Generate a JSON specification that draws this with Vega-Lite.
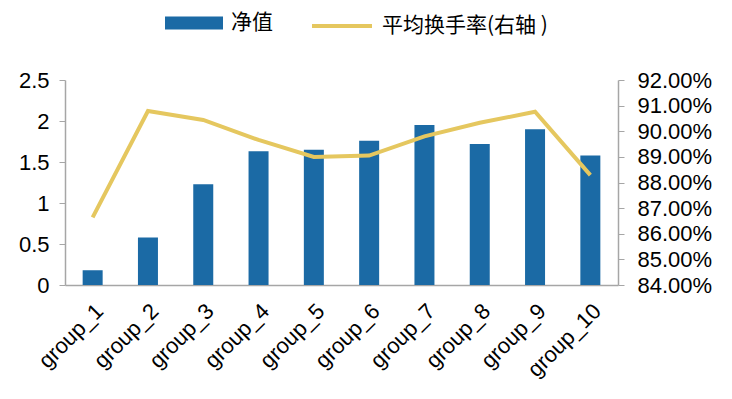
{
  "$schema": "https://vega.github.io/schema/vega-lite/v6.json",
  "width": 553,
  "height": 205,
  "autosize": "none",
  "padding": {"left": 65, "top": 80, "right": 114, "bottom": 114},
  "background": "white",
  "config": {
    "font": "Liberation Sans, Noto Sans CJK SC",
    "view": {"stroke": null},
    "axis": {"labelFont": "Liberation Sans", "labelFontSize": 22, "labelColor": "#000", "domainColor": "#a6a6a6", "tickColor": "#a6a6a6", "grid": false, "title": null}
  },
  "data": {"values": [
    {"group": "group_1", "nav": 0.18, "turnover": 0.8664, "s1": "净值", "s2": "平均换手率(右轴 )"},
    {"group": "group_2", "nav": 0.58, "turnover": 0.9079, "s1": "净值", "s2": "平均换手率(右轴 )"},
    {"group": "group_3", "nav": 1.23, "turnover": 0.9044, "s1": "净值", "s2": "平均换手率(右轴 )"},
    {"group": "group_4", "nav": 1.63, "turnover": 0.8966, "s1": "净值", "s2": "平均换手率(右轴 )"},
    {"group": "group_5", "nav": 1.65, "turnover": 0.8900, "s1": "净值", "s2": "平均换手率(右轴 )"},
    {"group": "group_6", "nav": 1.76, "turnover": 0.8905, "s1": "净值", "s2": "平均换手率(右轴 )"},
    {"group": "group_7", "nav": 1.95, "turnover": 0.8980, "s1": "净值", "s2": "平均换手率(右轴 )"},
    {"group": "group_8", "nav": 1.72, "turnover": 0.9033, "s1": "净值", "s2": "平均换手率(右轴 )"},
    {"group": "group_9", "nav": 1.90, "turnover": 0.9076, "s1": "净值", "s2": "平均换手率(右轴 )"},
    {"group": "group_10", "nav": 1.58, "turnover": 0.8829, "s1": "净值", "s2": "平均换手率(右轴 )"}
  ]},
  "encoding": {
    "x": {"field": "group", "type": "nominal", "sort": null,
          "scale": {"paddingInner": 0.64, "paddingOuter": 0.32},
          "axis": {"labelAngle": -45, "ticks": false, "labelPadding": 15, "domainWidth": 1.5}}
  },
  "layer": [
    {
      "mark": {"type": "bar", "width": 20},
      "encoding": {
        "y": {"field": "nav", "type": "quantitative", "scale": {"domain": [0, 2.5]},
              "axis": {"values": [0, 0.5, 1, 1.5, 2, 2.5], "format": "~g", "orient": "left", "tickSize": 6, "labelPadding": 10, "domainWidth": 1.5}},
        "fill": {"field": "s1", "type": "nominal", "scale": {"domain": ["净值"], "range": ["#1b6aa5"]},
                 "legend": {"orient": "none", "legendX": 100, "legendY": -86, "title": null, "symbolType": "M-1,-0.22H1V0.22H-1Z", "symbolSize": 3364, "symbolStrokeWidth": 0, "labelFontSize": 21, "labelFont": "Noto Sans CJK SC", "labelOffset": 8, "labelLimit": 400}}
      }
    },
    {
      "mark": {"type": "line", "strokeWidth": 4, "color": "#e5c75f"},
      "encoding": {
        "y": {"field": "turnover", "type": "quantitative", "scale": {"domain": [0.84, 0.92], "zero": false},
              "axis": {"values": [0.84, 0.85, 0.86, 0.87, 0.88, 0.89, 0.90, 0.91, 0.92], "format": ".2%", "orient": "right", "tickSize": 6, "labelPadding": 13, "domainWidth": 1.5}},
        "stroke": {"field": "s2", "type": "nominal", "scale": {"domain": ["平均换手率(右轴 )"], "range": ["#e5c75f"]},
                   "legend": {"orient": "none", "legendX": 245, "legendY": -86, "title": null, "symbolType": "stroke", "symbolSize": 3600, "symbolStrokeWidth": 4, "labelFontSize": 21, "labelFont": "Noto Sans CJK SC", "labelOffset": 8, "labelLimit": 400}}
      }
    }
  ],
  "resolve": {"scale": {"y": "independent"}}
}
